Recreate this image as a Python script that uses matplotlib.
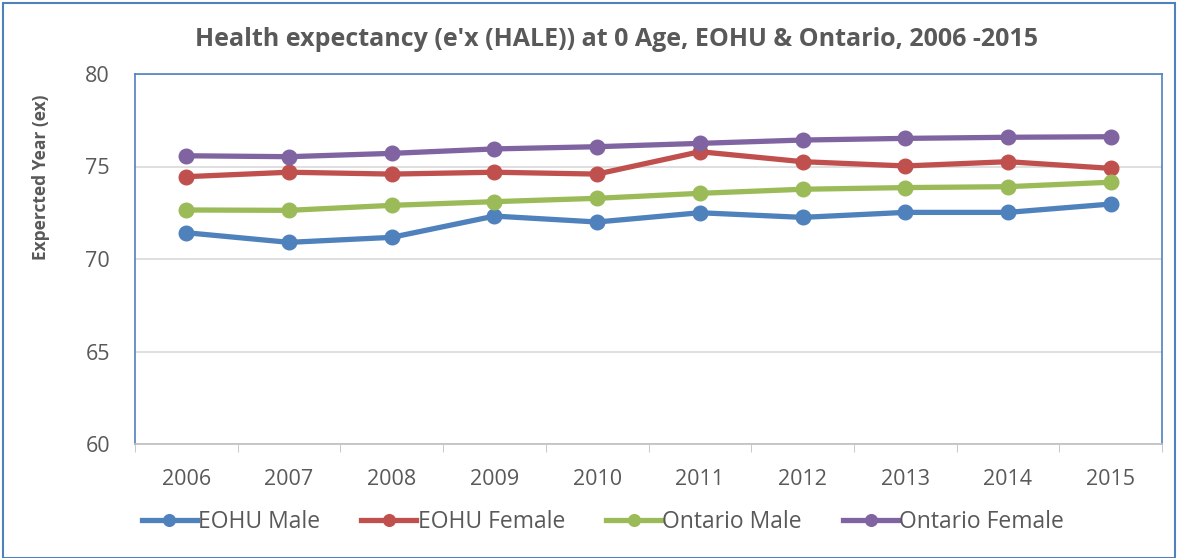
import matplotlib.pyplot as plt
from matplotlib.patches import Rectangle

years = ["2006", "2007", "2008", "2009", "2010", "2011", "2012", "2013", "2014", "2015"]
eohu_male = [71.42, 70.90, 71.17, 72.32, 72.00, 72.50, 72.25, 72.52, 72.52, 72.97]
eohu_female = [74.45, 74.69, 74.59, 74.69, 74.59, 75.80, 75.26, 75.03, 75.26, 74.90]
ontario_male = [72.65, 72.63, 72.90, 73.10, 73.28, 73.55, 73.77, 73.86, 73.91, 74.15]
ontario_female = [75.58, 75.53, 75.71, 75.95, 76.07, 76.25, 76.43, 76.52, 76.58, 76.61]

series = [
    ("EOHU Male", eohu_male, "#4F81BD"),
    ("EOHU Female", eohu_female, "#C0504D"),
    ("Ontario Male", ontario_male, "#9BBB59"),
    ("Ontario Female", ontario_female, "#8064A2"),
]

plt.rcParams["font.family"] = ["Open Sans", "DejaVu Sans"]
txt = "#595959"

fig = plt.figure(figsize=(11.78, 5.58), dpi=100)
ax = fig.add_axes([135 / 1178, 1 - 444 / 558, (1162 - 135) / 1178, (444 - 74) / 558])

x = range(len(years))
for name, vals, col in series:
    ax.plot(x, vals, color=col, lw=3.8, marker="o", ms=10.5, label=name, zorder=3)

ax.set_xlim(-0.5, len(years) - 0.5)
ax.set_ylim(60, 80)
ax.set_yticks([60, 65, 70, 75, 80])
ax.set_xticks(list(x))
ax.set_xticklabels(years)
ax.set_xticks([i + 0.5 for i in range(-1, len(years))], minor=True)
ax.tick_params(axis="x", which="major", length=0, labelsize=15.5, colors=txt, pad=18)
ax.tick_params(axis="x", which="minor", length=6, color="#bfbfbf")
ax.tick_params(axis="y", length=0, labelsize=15.5, colors=txt, pad=18)
ax.grid(axis="y", color="#d9d9d9", lw=1.2)
ax.set_axisbelow(True)

for side in ["left", "top", "right"]:
    ax.spines[side].set_color("#4F81BD")
    ax.spines[side].set_linewidth(1.2)
ax.spines["bottom"].set_color("#bfbfbf")
ax.spines["bottom"].set_linewidth(1.2)

ax.set_ylabel("Expercted Year (ex)", fontsize=12.5, fontweight="bold", color=txt)
ax.yaxis.set_label_coords(-0.083, 0.72)
fig.text(0.523, 1 - 40 / 558, "Health expectancy (e'x (HALE)) at 0 Age, EOHU & Ontario, 2006 -2015",
         ha="center", va="center", fontsize=18, fontweight="bold", color=txt)

leg = fig.legend(loc="center", bbox_to_anchor=(0.512, 1 - 522 / 558), ncol=4, frameon=False,
                 fontsize=16.5, handlelength=2.4, handletextpad=0.05, columnspacing=1.8,
                 markerscale=0.8)
for t in leg.get_texts():
    t.set_color(txt)

fig.patches.append(Rectangle((3 / 1178, 0), 1 - 6 / 1178, 1 - 3 / 558, transform=fig.transFigure,
                             fill=False, edgecolor="#4F81BD", lw=1.5))

fig.savefig("out.png", dpi=100)
